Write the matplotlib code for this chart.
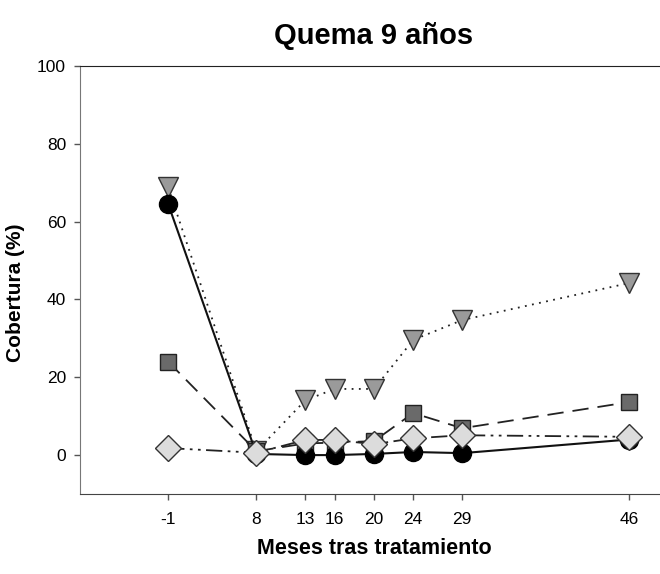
import matplotlib.pyplot as plt

# meses tras tratamiento
meses = [-1, 8, 13, 16, 20, 24, 29, 46]

# cobertura (%) de cada grupo
circulos = [64.5, 0.3, 0.0, 0.0, 0.3, 0.8, 0.5, 4.0]
cuadrados = [24.0, 1.0, 3.0, 3.2, 3.6, 10.8, 6.9, 13.6]
triangulos = [68.8, 1.0, 14.1, 17.0, 17.0, 29.6, 34.7, 44.2]
rombos = [1.8, 0.6, 3.9, 3.9, 2.8, 4.3, 5.1, 4.7]

y_ticks = [0, 20, 40, 60, 80, 100]

plt.rcParams['font.family'] = ['Liberation Sans', 'DejaVu Sans']
plt.rcParams['axes.unicode_minus'] = False

fig = plt.figure(figsize=(6.6, 5.74), dpi=100)
ax = fig.add_axes([80 / 660, 80 / 574, 588 / 660, 428 / 574])

ax.plot(meses, triangulos, linestyle=(0, (1, 3)), color='#222222', lw=1.3,
        marker='v', ms=15, mfc='#9a9a9a', mec='#333333', mew=1.0, zorder=2)
ax.plot(meses, cuadrados, linestyle=(0, (9, 5)), color='#222222', lw=1.3,
        marker='s', ms=12, mfc='#6a6a6a', mec='#222222', mew=1.0, zorder=3)
ax.plot(meses, circulos, linestyle='-', color='#111111', lw=1.5,
        marker='o', ms=13, mfc='black', mec='black', zorder=4)
ax.plot(meses, rombos, linestyle=(0, (9, 3, 1.5, 3, 1.5, 3)), color='#222222', lw=1.3,
        marker='D', ms=13, mfc='#dcdcdc', mec='#333333', mew=1.0, zorder=5)

ax.set_xlim(-10, 50)
ax.set_ylim(-10, 100)
ax.set_xticks(meses)
ax.set_yticks(y_ticks)

ax.spines['right'].set_visible(False)
ax.spines['left'].set_color('#777777')
ax.spines['bottom'].set_color('#444444')
ax.spines['top'].set_color('#222222')
ax.tick_params(direction='out', length=4, width=1, color='#555555', labelsize=12.5)
ax.tick_params(axis='x', pad=9)
ax.tick_params(axis='y', pad=6)

ax.set_title('Quema 9 años', fontsize=21, fontweight='bold', pad=16)
ax.set_xlabel('Meses tras tratamiento', fontsize=15.5, fontweight='bold', va='center')
ax.xaxis.set_label_coords(0.5, (494 - 548) / 428)
ax.set_ylabel('Cobertura (%)', fontsize=15, fontweight='bold', va='center')
ax.yaxis.set_label_coords((16 - 80) / 588, 0.47)

fig.savefig('out.png', dpi=100)
